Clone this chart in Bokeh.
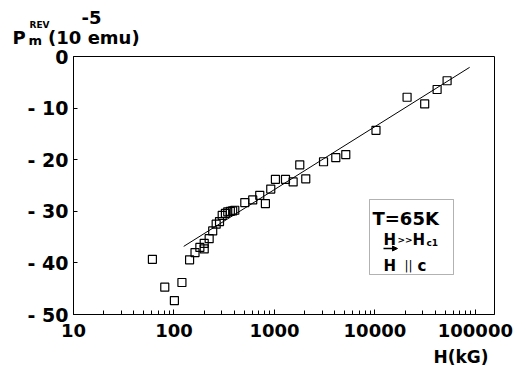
import math
from bokeh.plotting import figure
from bokeh.models import (Range1d, FixedTicker, CustomJSTickFormatter, Label,
                          BoxAnnotation, Arrow, NormalHead)
from bokeh.embed import file_html
from bokeh.resources import INLINE

# ---- data ----
h_field = [61, 81, 101, 120, 143, 162, 181, 200, 200, 224, 243, 263, 284, 302,
           325, 343, 364, 384, 403, 507, 608, 714, 813, 919, 1023, 1288, 1535,
           1787, 2050, 3080, 4080, 5130, 10250, 20900, 31300, 41600, 52300]
p_rev = [-39.3, -44.7, -47.3, -43.8, -39.4, -38.0, -37.0, -37.3, -36.2, -35.3,
         -33.8, -32.5, -32.0, -30.8, -30.4, -30.1, -30.0, -29.9, -29.8, -28.3,
         -27.8, -26.9, -28.5, -25.7, -23.8, -23.8, -24.3, -21.0, -23.7, -20.4,
         -19.6, -19.0, -14.3, -7.9, -9.2, -6.4, -4.7]
fit_h = [125, 87700]
fit_p = [-36.8, -2.1]
x_ticks = [10, 100, 1000, 10000, 100000]
y_ticks = [-50, -40, -30, -20, -10, 0]

X_MIN, X_MAX = 10, 155000
Y_MIN, Y_MAX = -50, 0

# frame geometry (pixels)
W, H = 523, 375
FX0, FX1, FY0, FY1 = 73, 494, 56, 314

def hx(px):
    return 10 ** (math.log10(X_MIN) + (px - FX0) / (FX1 - FX0) * math.log10(X_MAX / X_MIN))

def vy(py):
    return Y_MAX - (Y_MAX - Y_MIN) * (py - FY0) / (FY1 - FY0)

p = figure(width=W, height=H, x_axis_type="log",
           x_range=Range1d(X_MIN, X_MAX), y_range=Range1d(Y_MIN, Y_MAX),
           output_backend="svg", toolbar_location=None,
           min_border_left=FX0, min_border_right=W - FX1,
           min_border_top=FY0, min_border_bottom=H - FY1)
p.grid.visible = False
p.outline_line_color = "black"
p.outline_line_width = 1
p.background_fill_color = "white"
p.border_fill_color = "white"

FONT = "DejaVu Sans"
minor = [m * d for d in [10, 100, 1000, 10000, 100000] for m in range(2, 10)]
xa = p.xaxis[0]
xa.ticker = FixedTicker(ticks=x_ticks, minor_ticks=minor)
xa.formatter = CustomJSTickFormatter(code="return Math.round(tick).toString();")
xa.major_tick_in = 5
xa.major_tick_out = 0
xa.minor_tick_in = 4
xa.minor_tick_out = 0
xa.major_label_standoff = 9
xa.major_label_text_font = FONT
xa.major_label_text_font_style = "bold"
xa.major_label_text_font_size = "18px"
xa.major_label_text_color = "black"
xa.axis_line_color = "black"

ya = p.yaxis[0]
ya.ticker = FixedTicker(ticks=y_ticks)
ya.formatter = CustomJSTickFormatter(
    code="return tick < 0 ? '- ' + Math.abs(tick) : tick.toString();")
ya.major_tick_in = 4
ya.major_tick_out = 0
ya.minor_tick_in = 0
ya.minor_tick_out = 0
ya.major_label_standoff = 5
ya.major_label_text_font = FONT
ya.major_label_text_font_style = "bold"
ya.major_label_text_font_size = "19px"
ya.major_label_text_color = "black"
ya.axis_line_color = "black"

p.line(fit_h, fit_p, line_color="black", line_width=1)
p.scatter(h_field, p_rev, marker="square", size=8, fill_color=None,
          line_color="black", line_width=1.2)

def lab(text, px, py, size, bold=True, align="left", side="center"):
    lbl = Label(x=hx(px), y=vy(py), text=text, text_font=FONT,
                text_font_size=f"{size}px",
                text_font_style="bold" if bold else "normal",
                text_align=align, text_baseline="alphabetic",
                text_color="black")
    if side == "center":
        p.add_layout(lbl)
    else:
        p.add_layout(lbl, side)

# y-axis title: pieces outside the frame live in side panels with spare room
lab("P\u00a0\u00a0\u00a0\u2009(10\u00a0emu)", 12, 37, 18, side="above")
lab("-5", 81, 17, 18, side="above")
lab("m", 28, 40, 13, side="left")
lab("REV", 29, 24, 9, side="right")

# x-axis title
lab("H(kG)", 433, 356, 17, side="below")

# info box
p.add_layout(BoxAnnotation(left=hx(369), right=hx(453), top=vy(199), bottom=vy(274),
                           fill_color=None, line_color="black", line_width=1))
lab("T=65K", 372, 218, 18)
lab("H", 383, 239, 15)
lab(">>", 397, 239, 9)
lab("H", 412, 239, 15)
lab("c1", 426, 242, 9)
lab("H", 383, 265, 15)
lab("||", 404, 265, 12, bold=False)
lab("c", 417, 265, 15)
p.add_layout(Arrow(end=NormalHead(size=5, fill_color="black", line_color="black"),
                   x_start=hx(383), y_start=vy(248), x_end=hx(397), y_end=vy(248),
                   line_color="black", line_width=1.5))

open("out.html", "w").write(file_html(p, INLINE))
